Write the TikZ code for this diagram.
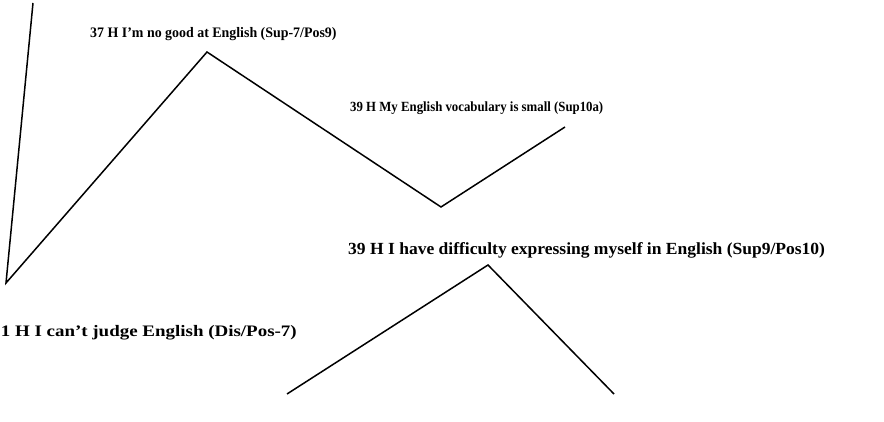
\documentclass[tikz,border=0pt]{standalone}
\usepackage{graphicx}
\usepackage{fontspec}
\setmainfont{Liberation Serif}
\newcommand{\lblsize}[1]{\fontsize{#1}{#1}\selectfont\bfseries}
\begin{document}
\begin{tikzpicture}[x=1pt,y=-1pt,
  branch/.style={line width=1.5pt, line join=miter, line cap=butt},
  lbl/.style={inner sep=0pt, anchor=base west}]
\useasboundingbox (0,0) rectangle (884,422);
% branch points of the first tree
\coordinate (top) at (33,3);
\coordinate (low) at (6,283);
\coordinate (peakA) at (207,52);
\coordinate (valley) at (441,207);
\coordinate (tipA) at (565,127);
% second tree
\coordinate (peakB) at (488,265);
\coordinate (footL) at (287,394);
\coordinate (footR) at (614,394);
\draw[branch] (top) -- (low) -- (peakA) -- (valley) -- (tipA);
\draw[branch] (footL) -- (peakB) -- (footR);
% labels
\node[lbl] (l37) at (90,38) {\scalebox{0.96}[1]{\lblsize{14.5}37 H I’m no good at English (Sup-7/Pos9)}};
\node[lbl] (l39a) at (350,112) {\scalebox{0.915}[1]{\lblsize{14}39 H My English vocabulary is small (Sup10a)}};
\node[lbl] (l39b) at (348,255) {\scalebox{1.03}[1]{\lblsize{17}39 H I have difficulty expressing myself in English (Sup9/Pos10)}};
\node[lbl, anchor=base east] (l1) at (297,336) {\scalebox{1.185}[1]{\lblsize{16}1 H I can’t judge English (Dis/Pos-7)}};
\end{tikzpicture}
\end{document}
